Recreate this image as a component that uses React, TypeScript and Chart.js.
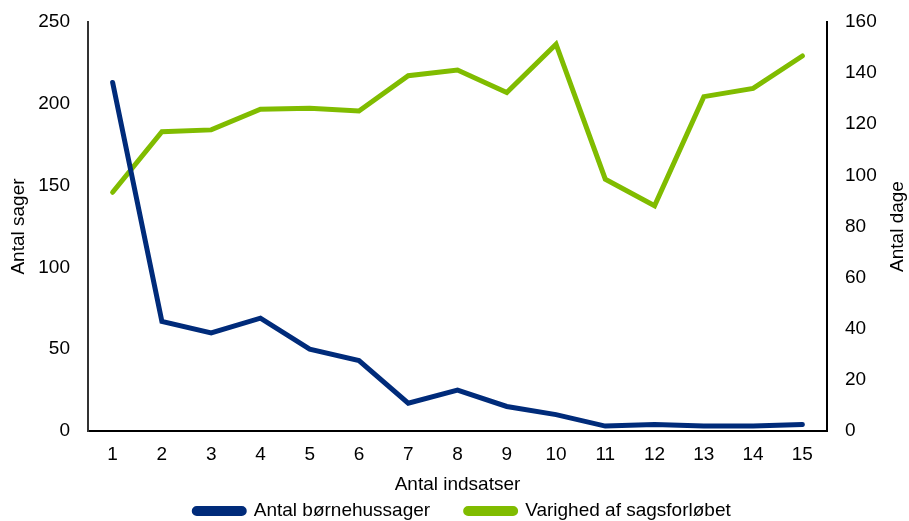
import React, { useEffect, useRef } from "react";
import { Chart, registerables } from "chart.js";

Chart.register(...registerables);

const categories = ["1", "2", "3", "4", "5", "6", "7", "8", "9", "10", "11", "12", "13", "14", "15"];
const antalSager = [213, 67, 60, 69, 50, 43, 17, 25, 15, 10, 3, 4, 3, 3, 4];
const varighedDage = [93.4, 117.1, 117.8, 125.9, 126.3, 125.2, 139, 141.2, 132.4, 151.3, 98.5, 88.1, 130.8, 134, 146.7];

const seriesNames = ["Antal børnehussager", "Varighed af sagsforløbet"];
const xTitle = "Antal indsatser";
const yLeftTitle = "Antal sager";
const yRightTitle = "Antal dage";

const BLUE = "#002B7A";
const GREEN = "#80BC00";
const SANS = "'Liberation Sans', Arial, sans-serif";

const rightTitlePlugin = {
  id: "rightTitle",
  afterDraw(chart: any) {
    const { ctx, chartArea } = chart;
    ctx.save();
    ctx.font = `19px ${SANS}`;
    ctx.fillStyle = "#000";
    ctx.textAlign = "center";
    ctx.textBaseline = "middle";
    ctx.translate(898, (chartArea.top + chartArea.bottom) / 2);
    ctx.rotate(-Math.PI / 2);
    ctx.fillText(yRightTitle, 0, 0);
    ctx.restore();
  },
};

const hiddenTickGrid = {
  display: true,
  drawOnChartArea: false,
  drawTicks: true,
  tickLength: 18,
  color: "transparent",
  tickColor: "transparent",
};

export default function App() {
  const ref = useRef<HTMLCanvasElement | null>(null);
  useEffect(() => {
    if (!ref.current) return;
    const chart = new Chart(ref.current, {
      type: "line",
      data: {
        labels: categories,
        datasets: [
          {
            label: seriesNames[0],
            data: antalSager,
            borderColor: BLUE,
            backgroundColor: BLUE,
            borderWidth: 5,
            pointRadius: 0,
            borderCapStyle: "round",
            yAxisID: "y",
          },
          {
            label: seriesNames[1],
            data: varighedDage,
            borderColor: GREEN,
            backgroundColor: GREEN,
            borderWidth: 5,
            pointRadius: 0,
            borderCapStyle: "round",
            yAxisID: "y2",
          },
        ],
      },
      options: {
        animation: false,
        responsive: false,
        maintainAspectRatio: false,
        layout: { padding: { top: 22, left: 16, right: 0, bottom: 0 } },
        plugins: {
          tooltip: { enabled: false },
          legend: {
            position: "bottom",
            maxHeight: 55,
            labels: {
              font: { family: SANS, size: 19 },
              color: "#000",
              boxWidth: 50,
              boxHeight: 5,
              padding: 35.5,
              useBorderRadius: true,
              borderRadius: 2.5,
            },
          },
        },
        scales: {
          x: {
            offset: true,
            grid: { display: false, drawTicks: false },
            border: { color: "#000", width: 2 },
            ticks: { color: "#000", font: { family: SANS, size: 19 }, padding: 12, maxRotation: 0, autoSkip: false },
            title: { display: true, text: xTitle, color: "#000", font: { family: SANS, size: 19 }, padding: { top: 0, bottom: -30.4 } },
            afterFit: (s: any) => { s.height = 35; },
          },
          y: {
            position: "left",
            min: 0,
            max: 250,
            grid: hiddenTickGrid,
            border: { color: "#333", width: 2 },
            ticks: { stepSize: 50, color: "#000", font: { family: SANS, size: 19 }, padding: 0 },
            title: { display: true, text: yLeftTitle, color: "#000", font: { family: SANS, size: 19 }, padding: { top: -9, bottom: 0 } },
            afterFit: (s: any) => { s.width = 72; },
          },
          y2: {
            position: "right",
            min: 0,
            max: 160,
            grid: hiddenTickGrid,
            border: { color: "#000", width: 2 },
            ticks: { stepSize: 20, color: "#000", font: { family: SANS, size: 19 }, padding: 0 },
            afterFit: (s: any) => { s.width = 82; },
          },
        },
      },
      plugins: [rightTitlePlugin],
    } as any);
    return () => chart.destroy();
  }, []);
  return (
    <div style={{ position: "absolute", left: 0, top: 0, width: 909, height: 521, background: "#fff" }}>
      <canvas ref={ref} width={909} height={521} style={{ width: 909, height: 521 }} />
    </div>
  );
}
